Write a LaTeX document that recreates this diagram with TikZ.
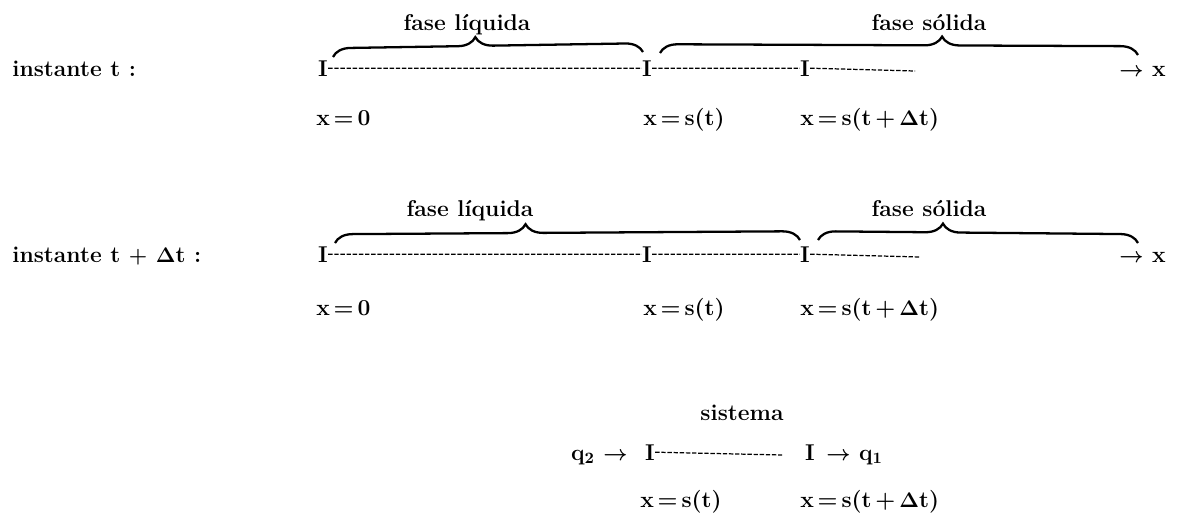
\documentclass[tikz,border=0pt]{standalone}
\usepackage{fontspec}
\usepackage{tikz}
\usetikzlibrary{decorations.pathreplacing}

\begin{document}
\begin{tikzpicture}[x=0.02cm, y=-0.02cm,
	every node/.style={font=\fontsize{13}{15}\selectfont\bfseries\boldmath, inner sep=0pt},
	iface/.style={anchor=base},
	lbl/.style={anchor=base west},
	dashline/.style={line width=0.7pt, dash pattern=on 2.5pt off 1pt},
	fasebrace/.style={decorate, decoration={brace, amplitude=10pt, aspect=#1}, line width=1.3pt}]
	\useasboundingbox (0,0) rectangle (1185,514);
	% instante t
	\node[lbl] (ta) at (12,76) {instante t :};
	\node[iface] (a0) at (323,76) {I};
	\node[iface] (a1) at (647,76) {I};
	\node[iface] (a2) at (805,76) {I};
	\coordinate (aend) at (915,71);
	\draw[dashline] (a0.east) -- (a1.west) (a1.east) -- (a2.west) (a2.east) -- (aend);
	\node[anchor=base east] (ax) at (1166,76) {$\rightarrow$\ x};
	\node[lbl] (la0) at (316,125) {x\,=\,0};
	\node[lbl] (la1) at (643,125) {x\,=\,s(t)};
	\node[lbl] (la2) at (800,125) {x\,=\,s(t\,+\,$\Delta$t)};
	\coordinate (bl1) at (333,57);
	\coordinate (bl2) at (643,52);
	\coordinate (bs1) at (660,53);
	\coordinate (bs2) at (1138,55);
	\draw[fasebrace=0.46] (bl1) -- (bl2);
	\draw[fasebrace=0.59] (bs1) -- (bs2);
	\node[anchor=base] (fl) at (467,30) {fase líquida};
	\node[anchor=base] (fs) at (929,30) {fase sólida};
	% instante t + dt
	\node[lbl] (tb) at (12,262) {instante t $+$ $\Delta$t :};
	\node[iface] (b0) at (323,262) {I};
	\node[iface] (b1) at (647,262) {I};
	\node[iface] (b2) at (805,262) {I};
	\coordinate (bend) at (920,257);
	\draw[dashline] (b0.east) -- (b1.west) (b1.east) -- (b2.west) (b2.east) -- (bend);
	\node[anchor=base east] (bx) at (1166,262) {$\rightarrow$\ x};
	\node[lbl] (lb0) at (316,315) {x\,=\,0};
	\node[lbl] (lb1) at (643,315) {x\,=\,s(t)};
	\node[lbl] (lb2) at (800,315) {x\,=\,s(t\,+\,$\Delta$t)};
	\coordinate (cl1) at (335,243);
	\coordinate (cl2) at (800,240);
	\coordinate (cs1) at (818,240);
	\coordinate (cs2) at (1138,243);
	\draw[fasebrace=0.41] (cl1) -- (cl2);
	\draw[fasebrace=0.39] (cs1) -- (cs2);
	\node[anchor=base] (gl) at (470,216) {fase líquida};
	\node[anchor=base] (gs) at (929,216) {fase sólida};
	% sistema
	\node[anchor=base] (sis) at (742,420) {sistema};
	\node[iface] (s0) at (650,460) {I};
	\node[iface] (s1) at (810,460) {I};
	\coordinate (send) at (782,455);
	\draw[dashline] (s0.east) -- (send);
	\node[anchor=base east] (q2) at (628,460) {q$_2$ $\rightarrow$};
	\node[lbl] (q1) at (826,460) {$\rightarrow$ q$_1$};
	\node[lbl] (ls0) at (640,507) {x\,=\,s(t)};
	\node[lbl] (ls1) at (800,507) {x\,=\,s(t\,+\,$\Delta$t)};
\end{tikzpicture}
\end{document}
